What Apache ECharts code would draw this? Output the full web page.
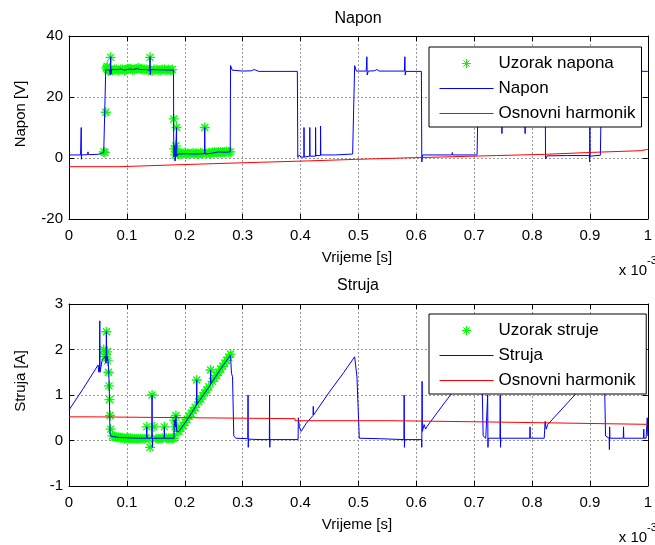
<!DOCTYPE html>
<html>
<head>
<meta charset="utf-8">
<script src="https://cdn.jsdelivr.net/npm/echarts@6/dist/echarts.min.js"></script>
<style>
  html, body { margin: 0; padding: 0; background: #fff; }
  #chart { width: 655px; height: 545px; }
</style>
</head>
<body>
<div id="chart"></div>
<script>
// vrijeme u jedinicama 10^-3 s
const xTicks = [0, 0.1, 0.2, 0.3, 0.4, 0.5, 0.6, 0.7, 0.8, 0.9, 1]

// napon [V] - mjereni signal
const napon = [
  [0, 1.0], [0.020, 1.0], [0.0208, 1.1], [0.0211, 10], [0.0214, -0.4], [0.0218, 1.0],
  [0.032, 1.1], [0.0328, 2.0], [0.0335, 1.1], [0.050, 1.2], [0.056, 1.5], [0.060, 1.8],
  [0.062, 1.4], [0.0632, 1.5], [0.0635, 29], [0.066, 29.3], [0.0705, 28.8], [0.0715, 27.2],
  [0.0720, 33.2], [0.0725, 27.5], [0.0735, 29], [0.085, 29], [0.090, 29.2], [0.095, 28.8],
  [0.105, 29.2], [0.110, 29], [0.118, 29.3], [0.122, 29.0], [0.135, 29], [0.1395, 28.6],
  [0.1400, 33.2], [0.1405, 27.3], [0.1412, 29], [0.160, 28.9], [0.1805, 28.8], [0.1810, 0.5],
  [0.1825, 4], [0.1832, -1], [0.184, 0.5], [0.1855, 0.8], [0.1858, 10], [0.1862, 0.5],
  [0.188, 1.3], [0.200, 1.4], [0.215, 1.3], [0.234, 1.4], [0.2345, 10], [0.235, 1.3],
  [0.248, 1.6], [0.258, 2.0], [0.270, 1.9], [0.2785, 2.0], [0.2791, 30.3], [0.282, 28.8],
  [0.300, 28.5], [0.315, 28.6], [0.320, 29.0], [0.328, 28.4], [0.3945, 28.4], [0.3953, 0.2],
  [0.398, 1.0], [0.401, 0.3], [0.4058, 0.3], [0.406, 10], [0.4064, 0.3], [0.4158, 0.6],
  [0.416, 10], [0.4164, 0.6], [0.4258, 0.6], [0.426, 10], [0.4264, 0.8], [0.4344, 0.8],
  [0.4346, 10.5], [0.435, 1.0], [0.460, 1.0], [0.490, 1.3], [0.4928, 1.0], [0.4935, 30.3],
  [0.4965, 28.5], [0.5135, 28.5], [0.5146, 33.2], [0.5152, 27.2], [0.517, 28.5], [0.528, 28.6],
  [0.532, 29.0], [0.536, 28.5], [0.5795, 28.5], [0.5803, 33.2], [0.5809, 27.2], [0.582, 28.4],
  [0.6088, 28.4], [0.6095, -1.3], [0.611, 1.0], [0.620, 1.0], [0.6615, 1.0], [0.6623, 1.8],
  [0.663, 1.0], [0.705, 1.0], [0.7078, 29], [0.720, 28.5], [0.7475, 28.5], [0.748, 8],
  [0.7485, 28.5], [0.7875, 28.5], [0.788, 8], [0.7885, 28.5], [0.8225, 28.5], [0.8233, -0.3],
  [0.826, 0.7], [0.860, 0.8], [0.8988, 0.8], [0.8994, -1.3], [0.8998, 10], [0.9003, 0.6],
  [0.918, 0.9], [0.9205, 29.7], [0.923, 28.4], [0.960, 28.5], [1.0, 28.4]
]

// napon - osnovni harmonik (stepenasto)
const naponHarm = [
  [0, -2.85], [0.0875, -2.35], [0.1675, -1.85], [0.250, -1.4], [0.3305, -0.95], [0.4134, -0.45],
  [0.495, 0], [0.5763, 0.4], [0.658, 0.8], [0.739, 1.2], [0.822, 1.85], [0.905, 2.4],
  [0.988, 2.85], [1.0, 2.85]
]

// struja [A] - mjereni signal
const struja = [
  [0, 0.67], [0.025, 1.15], [0.0503, 1.66], [0.0515, 1.5], [0.0527, 1.55], [0.0532, 2.63],
  [0.0537, 1.5], [0.057, 1.75], [0.0625, 1.85], [0.0640, 1.7], [0.0646, 2.39], [0.0652, 1.75],
  [0.0665, 1.85], [0.0685, 1.6], [0.0695, 1.2], [0.0703, 0.6], [0.0708, 0.15], [0.073, 0.09],
  [0.085, 0.07], [0.100, 0.06], [0.120, 0.05], [0.1340, 0.05], [0.1344, 0.3], [0.1348, 0.05],
  [0.1430, 0.05], [0.1435, 1.0], [0.1440, -0.15], [0.1445, 0.05], [0.1643, 0.05], [0.1647, 0.3],
  [0.1651, 0.05], [0.1814, 0.05], [0.1818, 0.45], [0.1835, 0.3], [0.1847, 0.55], [0.186, 0.2],
  [0.190, 0.2], [0.205, 0.47], [0.2203, 0.78], [0.2207, 1.33], [0.2212, 0.8], [0.232, 1.0],
  [0.2443, 1.22], [0.2447, 1.55], [0.2452, 1.25], [0.262, 1.57], [0.279, 1.88], [0.2795, 1.9],
  [0.2807, 1.48], [0.2825, 1.4], [0.2847, 0.1], [0.288, 0.05], [0.3089, 0.04], [0.3093, 1.0],
  [0.3097, -0.15], [0.3101, 0.03], [0.330, 0.02], [0.3461, 0.02], [0.3465, 1.0], [0.3469, -0.15],
  [0.3473, 0.02], [0.3958, 0.02], [0.3962, 0.5], [0.398, 0.3], [0.401, 0.2], [0.410, 0.38],
  [0.4216, 0.55], [0.422, 0.75], [0.4225, 0.56], [0.450, 1.07], [0.475, 1.5], [0.4935, 1.84],
  [0.496, 1.88], [0.4975, 1.4], [0.5015, 0.05], [0.536, 0.04], [0.537, 0.02], [0.5786, 0.02],
  [0.579, 1.0], [0.5795, -0.15], [0.580, 0.02], [0.6091, 0.02], [0.6095, -0.15], [0.610, 1.3],
  [0.6105, 0.2], [0.6135, 0.35], [0.616, 0.25], [0.618, 0.3], [0.650, 0.85], [0.680, 1.35],
  [0.7125, 1.9], [0.7135, 1.4], [0.7155, 0.1], [0.720, 0.05], [0.7229, 0.05], [0.7233, 1.0],
  [0.7238, -0.15], [0.7242, 0.05], [0.7446, 0.05], [0.745, 1.0], [0.7455, -0.15], [0.746, 0.05],
  [0.796, 0.05], [0.7965, 0.3], [0.797, 0.05], [0.821, 0.05], [0.8225, 0.42], [0.8245, 0.25],
  [0.827, 0.35], [0.850, 0.67], [0.8737, 1.0], [0.900, 1.4], [0.924, 1.8], [0.925, 1.4],
  [0.927, 0.1], [0.9332, 0.05], [0.9336, -0.2], [0.934, 0.3], [0.9345, 0.05], [0.9576, 0.05],
  [0.958, 0.3], [0.9585, 0.05], [0.9925, 0.05], [0.993, 0.25], [0.9935, 0.05], [0.997, 0.05],
  [0.999, 0.5], [1.0, 0.1]
]

// struja - osnovni harmonik (stepenasto)
const strujaHarm = [
  [0, 0.52], [0.036, 0.50], [0.2133, 0.48], [0.3905, 0.435], [0.556, 0.41], [0.7135, 0.38],
  [0.871, 0.355], [1.0, 0.355]
]

// uzorci (zvjezdice)
const sampleT = [
  0.0600, 0.0620, 0.0635, 0.0646, 0.0660, 0.0670, 0.0680, 0.0690, 0.0700, 0.0710, 0.0720,
  0.0750, 0.0785, 0.0820, 0.0855, 0.0890, 0.0925, 0.0960, 0.0995, 0.1030, 0.1065, 0.1100,
  0.1135, 0.1170, 0.1205, 0.1240, 0.1275, 0.1310, 0.1344, 0.1380, 0.1400, 0.1435, 0.1470,
  0.1505, 0.1540, 0.1575, 0.1610, 0.1647, 0.1680, 0.1715, 0.1750, 0.1785, 0.1810, 0.1818,
  0.1835, 0.1847, 0.1858, 0.1880, 0.1900, 0.1935, 0.1970, 0.2005, 0.2040, 0.2075, 0.2110,
  0.2145, 0.2180, 0.2207, 0.2240, 0.2275, 0.2310, 0.2345, 0.2380, 0.2415, 0.2447, 0.2480,
  0.2515, 0.2550, 0.2585, 0.2620, 0.2655, 0.2690, 0.2725, 0.2760, 0.2790
]
const sampleU = [
  2.0, 1.8, 15, 29.5, 30, 29, 28.5, 29, 28.8, 29, 33,
  28.7, 29, 29, 28.8, 29, 29, 28.8, 29, 29.3, 29.2, 28.9,
  29, 29.3, 29.5, 29.2, 29, 29, 29, 28.8, 33, 28.5, 29,
  29, 28.8, 28.8, 29, 29, 28.8, 29, 28.8, 29, 12.8, 3,
  1, 4, 10, 2, 1.5, 1.2, 1.5, 1.8, 1.5, 1.3, 1.5,
  1.6, 1.5, 1.5, 1.4, 1.6, 1.5, 10, 1.5, 1.7, 1.5, 1.8,
  2, 1.8, 2, 1.9, 2, 2, 2.1, 2, 2
]
const sampleI = [
  2.0, 1.85, 1.9, 2.39, 1.95, 1.75, 1.5, 1.2, 0.9, 0.55, 0.25,
  0.1, 0.08, 0.07, 0.07, 0.06, 0.06, 0.05, 0.05, 0.05, 0.05, 0.04,
  0.04, 0.04, 0.04, 0.04, 0.04, 0.04, 0.3, 0.04, -0.15, 1.0, 0.3,
  0.04, 0.04, 0.04, 0.05, 0.3, 0.05, 0.05, 0.05, 0.05, 0.05, 0.45,
  0.3, 0.55, 0.25, 0.2, 0.2, 0.27, 0.33, 0.4, 0.47, 0.53, 0.6,
  0.66, 0.73, 1.33, 0.85, 0.91, 0.98, 1.05, 1.11, 1.18, 1.55, 1.3,
  1.37, 1.43, 1.5, 1.57, 1.63, 1.7, 1.76, 1.83, 1.9
]

const FONT = 'Liberation Sans, Arial, Helvetica, sans-serif'
const STAR = 'path://M5,0L5,10M0,5L10,5M1.5,1.5L8.5,8.5M1.5,8.5L8.5,1.5'
// crta za legendu (nevidljive tocke samo drze okvir 54x9)
const DASH = 'path://M0,0L0,0M0,4.5L54,4.5M54,9L54,9'

function pairs(ts, vs) {
  return ts.map((t, i) => [t, vs[i]])
}

function xAxes(gi) {
  const base = {
    gridIndex: gi, type: 'value', min: 0, max: 1, interval: 0.1,
    axisLine: { show: true, onZero: false, lineStyle: { color: '#000', width: 1 } },
    axisTick: { show: true, inside: true, length: 5, lineStyle: { color: '#000' } }
  }
  return [
    Object.assign({}, base, {
      position: 'bottom',
      axisLabel: {
        color: '#000', fontSize: 15, fontFamily: FONT, margin: 9,
        showMinLabel: true, showMaxLabel: true,
        formatter: v => String(Math.round(v * 10) / 10)
      },
      splitLine: { show: true, lineStyle: { color: '#999', type: [2, 2], width: 1 } }
    }),
    Object.assign({}, base, {
      position: 'top', axisLabel: { show: false }, splitLine: { show: false }
    })
  ]
}

function yAxes(gi, min, max, interval) {
  const base = {
    gridIndex: gi, type: 'value', min: min, max: max, interval: interval,
    axisLine: { show: true, onZero: false, lineStyle: { color: '#000', width: 1 } },
    axisTick: { show: true, inside: true, length: 5, lineStyle: { color: '#000' } }
  }
  return [
    Object.assign({}, base, {
      position: 'left',
      axisLabel: { color: '#000', fontSize: 15, fontFamily: FONT, margin: 6 },
      splitLine: { show: true, lineStyle: { color: '#999', type: [2, 2], width: 1 } }
    }),
    Object.assign({}, base, {
      position: 'right', axisLabel: { show: false }, splitLine: { show: false }
    })
  ]
}

function legendFor(top, names) {
  return {
    orient: 'vertical', left: 429, top: top, z: 10,
    padding: [8, 6, 5, 10], itemGap: 8, itemWidth: 54, itemHeight: 9,
    borderColor: '#000', borderWidth: 1, borderRadius: 0, backgroundColor: '#fff',
    selectedMode: false,
    textStyle: { color: '#000', fontSize: 17, fontFamily: FONT, lineHeight: 17 },
    data: [
      { name: names[0], icon: STAR, itemStyle: { color: '#00ff00', borderColor: '#00ff00', borderWidth: 1 } },
      { name: names[1], icon: DASH, itemStyle: { color: '#0000ff', borderColor: '#0000ff', borderWidth: 1, opacity: 1 } },
      { name: names[2], icon: DASH, itemStyle: { color: '#ff0000', borderColor: '#ff0000', borderWidth: 1, opacity: 1 } }
    ]
  }
}

function text(x, y, str, size, extra) {
  return Object.assign({
    type: 'text', x: x, y: y,
    style: {
      text: str, fill: '#000', font: size + 'px ' + FONT,
      textAlign: 'center', textVerticalAlign: 'middle'
    }
  }, extra || {})
}

const chart = echarts.init(document.getElementById('chart'), null, { renderer: 'canvas' })

const option = {
  animation: false,
  backgroundColor: '#fff',
  grid: [
    { left: 69, top: 36, width: 583, height: 183 },
    { left: 69, top: 304, width: 583, height: 182 }
  ],
  xAxis: xAxes(0).concat(xAxes(1)),
  yAxis: yAxes(0, -20, 40, 20).concat(yAxes(1, -1, 3, 1)),
  legend: [
    legendFor(47, ['Uzorak napona', 'Napon', 'Osnovni harmonik']),
    legendFor(314, ['Uzorak struje', 'Struja', 'Osnovni harmonik '])
  ],
  graphic: [
    text(358, 19, 'Napon', 16),
    text(358, 286, 'Struja', 16),
    text(21, 114, 'Napon [V]', 15, { rotation: Math.PI / 2 }),
    text(21, 381, 'Struja [A]', 15, { rotation: Math.PI / 2 }),
    text(357, 258, 'Vrijeme [s]', 15),
    text(357, 525, 'Vrijeme [s]', 15),
    text(633, 271, 'x 10', 15),
    text(652, 261, '-3', 11),
    text(633, 538, 'x 10', 15),
    text(652, 528, '-3', 11)
  ],
  series: [
    {
      name: 'Uzorak napona', type: 'scatter', xAxisIndex: 0, yAxisIndex: 0, z: 1,
      symbol: STAR, symbolSize: 10,
      itemStyle: { color: '#00ff00', borderColor: '#00ff00', borderWidth: 1.3, opacity: 1 },
      data: pairs(sampleT, sampleU)
    },
    {
      name: 'Napon', type: 'line', xAxisIndex: 0, yAxisIndex: 0, z: 2,
      symbol: 'none', showSymbol: false,
      lineStyle: { color: '#0000ff', width: 1 }, itemStyle: { color: '#0000ff' },
      data: napon
    },
    {
      name: 'Osnovni harmonik', type: 'line', xAxisIndex: 0, yAxisIndex: 0, z: 3,
      symbol: 'none', showSymbol: false, step: 'end',
      lineStyle: { color: '#ff0000', width: 1 }, itemStyle: { color: '#ff0000' },
      data: naponHarm
    },
    {
      name: 'Uzorak struje', type: 'scatter', xAxisIndex: 2, yAxisIndex: 2, z: 1,
      symbol: STAR, symbolSize: 10,
      itemStyle: { color: '#00ff00', borderColor: '#00ff00', borderWidth: 1.3, opacity: 1 },
      data: pairs(sampleT, sampleI)
    },
    {
      name: 'Struja', type: 'line', xAxisIndex: 2, yAxisIndex: 2, z: 2,
      symbol: 'none', showSymbol: false,
      lineStyle: { color: '#0000ff', width: 1 }, itemStyle: { color: '#0000ff' },
      data: struja
    },
    {
      name: 'Osnovni harmonik ', type: 'line', xAxisIndex: 2, yAxisIndex: 2, z: 3,
      symbol: 'none', showSymbol: false, step: 'end',
      lineStyle: { color: '#ff0000', width: 1 }, itemStyle: { color: '#ff0000' },
      data: strujaHarm
    }
  ]
}

chart.setOption(option)
</script>
</body>
</html>
